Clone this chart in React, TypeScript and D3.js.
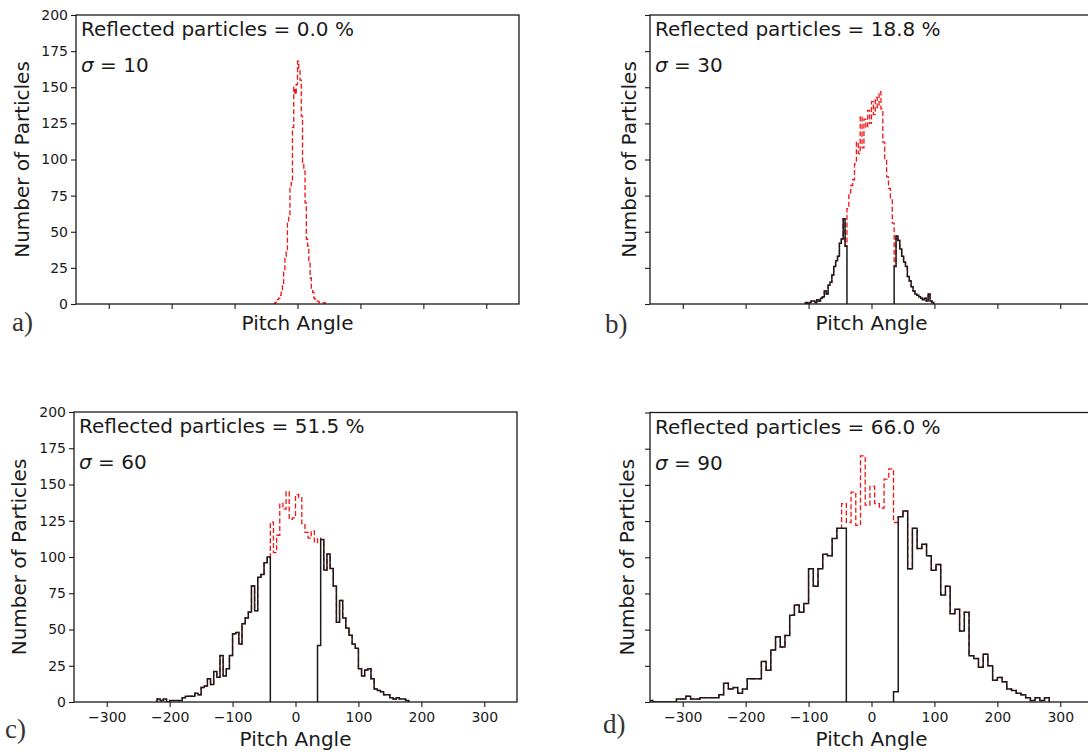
import React, { useEffect, useRef } from 'react';
import * as d3 from 'd3';

// Axis ticks shared by every panel
const pitchTicks = [-300, -200, -100, 0, 100, 200, 300];
const countTicks = [0, 25, 50, 75, 100, 125, 150, 175, 200];
const pitchDomain = [-352, 352];
const countDomain = [0, 200];

// a) sigma = 10, nothing reflected
const aBin = 2;
const aCoreStart = -38;
const aCore = [0, 1, 2, 3, 4, 6, 9, 13, 22, 33, 37, 56, 60, 80, 84, 122, 150, 145, 152, 168, 162, 155, 130, 98, 92, 70, 45, 40, 30, 18, 10, 8, 4, 3, 2, 2, 1, 1, 1, 1, 1, 0];

// b) sigma = 30
const bBin = 3;
const bLeftStart = -105;
const bLeft = [1, 0, 1, 2, 2, 1, 3, 2, 4, 5, 9, 7, 13, 15, 20, 26, 30, 33, 42, 45, 59, 40];
const bCoreStart = -39;
const bCore = [66, 77, 82, 86, 97, 112, 104, 130, 108, 128, 122, 134, 125, 140, 131, 143, 136, 147, 135, 112, 100, 88, 80, 72, 56];
const bRightStart = 36;
const bRight = [26, 47, 44, 38, 33, 29, 26, 19, 16, 12, 9, 7, 6, 5, 4, 3, 4, 2, 7, 2, 1];

// c) sigma = 60
const cBin = 5;
const cLeftStart = -220;
const cLeft = [2, 1, 2, 0, 1, 1, 1, 1, 3, 4, 4, 4, 6, 5, 10, 11, 16, 12, 21, 17, 32, 18, 23, 32, 47, 48, 40, 54, 58, 62, 80, 63, 86, 88, 96, 100];
const cCoreStart = -40;
const cCore = [124, 103, 115, 137, 133, 145, 126, 127, 143, 141, 123, 117, 113, 118, 110, 113];
const cRightStart = 35;
const cRight = [39, 112, 91, 102, 92, 80, 55, 70, 58, 51, 46, 40, 37, 23, 18, 22, 23, 16, 9, 8, 7, 5, 5, 3, 2, 3, 2, 2, 1];

// d) sigma = 90
const dBin = 7.5;
const dLeftStart = -355;
const dLeft = [1, 0, 0, 0, 0, 0, 2, 2, 4, 2, 2, 3, 3, 3, 3, 5, 13, 9, 10, 6, 9, 16, 16, 16, 28, 22, 36, 45, 38, 46, 60, 67, 62, 68, 92, 80, 92, 102, 101, 113, 120, 120];
const dCoreStart = -47.5;
const dCore = [137, 124, 145, 122, 170, 136, 149, 137, 134, 154, 161, 124];
const dRightStart = 35;
const dRight = [7, 128, 132, 92, 120, 106, 109, 101, 91, 95, 74, 80, 61, 64, 49, 62, 32, 30, 24, 33, 25, 15, 17, 14, 9, 8, 6, 5, 3, 1, 3, 1, 3];

const panelNames = ['a)', 'b)', 'c)', 'd)'];
const reflectedShares = ['0.0', '18.8', '51.5', '66.0'];
const sigmas = ['10', '30', '60', '90'];

const histos = [
  { bin: aBin, leftStart: 0, left: [], coreStart: aCoreStart, core: aCore, rightStart: 0, right: [] },
  { bin: bBin, leftStart: bLeftStart, left: bLeft, coreStart: bCoreStart, core: bCore, rightStart: bRightStart, right: bRight },
  { bin: cBin, leftStart: cLeftStart, left: cLeft, coreStart: cCoreStart, core: cCore, rightStart: cRightStart, right: cRight },
  { bin: dBin, leftStart: dLeftStart, left: dLeft, coreStart: dCoreStart, core: dCore, rightStart: dRightStart, right: dRight },
];

// Where each subplot sits on the page
const frames = [
  { left: 76, right: 519, top: 15, bottom: 304, yLabelX: 29, nameX: 12, nameY: 331 },
  { left: 650, right: 1093, top: 15, bottom: 304, yLabelX: 636, nameX: 605, nameY: 333 },
  { left: 74, right: 517, top: 412, bottom: 702, yLabelX: 26, nameX: 5, nameY: 738 },
  { left: 650, right: 1093, top: 412.5, bottom: 702, yLabelX: 634, nameX: 603, nameY: 733 },
];

const sans = "'DejaVu Sans', sans-serif";
const ink = '#1a1a1a';

type Bin = { x0: number; x1: number; count: number };

const toBins = (start: number, bin: number, counts: number[]): Bin[] =>
  counts.map((count, i) => ({ x0: start + i * bin, x1: start + (i + 1) * bin, count }));

const App = () => {
  const svgRef = useRef<SVGSVGElement>(null);

  useEffect(() => {
    const svg = d3.select(svgRef.current);
    svg.selectAll('*').remove();

    frames.forEach((f, k) => {
      const h = histos[k];
      const x = d3.scaleLinear().domain(pitchDomain).range([f.left, f.right]);
      const y = d3.scaleLinear().domain(countDomain).range([f.bottom, f.top]);

      // matplotlib style step outline
      const step = (bins: Bin[]) => {
        const pts: [number, number][] = [[bins[0].x0, 0], ...bins.map(b => [b.x0, b.count] as [number, number]), [bins[bins.length - 1].x1, 0]];
        return d3.line<[number, number]>()
          .x(p => x(p[0]))
          .y(p => y(p[1]))
          .curve(d3.curveStepAfter)(pts);
      };

      const leftBins = toBins(h.leftStart, h.bin, h.left);
      const coreBins = toBins(h.coreStart, h.bin, h.core);
      const rightBins = toBins(h.rightStart, h.bin, h.right);
      const coreEnd = coreBins[coreBins.length - 1].x1;
      // all particles: wings plus the transmitted core
      const allBins = [
        ...leftBins.filter(b => b.x1 <= h.coreStart + 1e-6),
        ...coreBins,
        ...rightBins.filter(b => b.x0 >= coreEnd - 1e-6),
      ];

      const g = svg.append('g');
      const clipId = `clip-${k}`;
      g.append('clipPath').attr('id', clipId)
        .append('rect')
        .attr('x', f.left).attr('y', f.top)
        .attr('width', f.right - f.left).attr('height', f.bottom - f.top);

      const plot = g.append('g').attr('clip-path', `url(#${clipId})`);
      plot.append('path')
        .attr('d', step(allBins))
        .attr('fill', 'none')
        .attr('stroke', '#f01414')
        .attr('stroke-width', 1.3)
        .attr('stroke-dasharray', '5,2.5');
      [leftBins, rightBins].filter(b => b.length).forEach(bins => {
        plot.append('path')
          .attr('d', step(bins))
          .attr('fill', 'none')
          .attr('stroke', ink)
          .attr('stroke-width', 1.5);
      });

      // Axes
      const showX = k >= 2;
      const showY = k % 2 === 0;
      const xAxis = g.append('g')
        .attr('transform', `translate(0,${f.bottom})`)
        .call(d3.axisBottom(x).tickValues(pitchTicks).tickSize(5).tickSizeOuter(0).tickPadding(5)
          .tickFormat(d => (showX ? d3.format('d')(d as number).replace('-', '\u2212') : '')));
      const yAxis = g.append('g')
        .attr('transform', `translate(${f.left},0)`)
        .call(d3.axisLeft(y).tickValues(countTicks).tickSize(5).tickSizeOuter(0).tickPadding(3)
          .tickFormat(d => (showY ? String(d) : '')));
      [xAxis, yAxis].forEach(a => {
        a.select('.domain').remove();
        a.selectAll('line').attr('stroke', ink).attr('stroke-width', 1.1);
        a.selectAll('text').attr('fill', ink).attr('font-family', sans).attr('font-size', 14);
      });

      g.append('rect')
        .attr('x', f.left).attr('y', f.top)
        .attr('width', f.right - f.left).attr('height', f.bottom - f.top)
        .attr('fill', 'none')
        .attr('stroke', ink)
        .attr('stroke-width', 1.3);

      // Labels
      g.append('text')
        .attr('x', (f.left + f.right) / 2)
        .attr('y', showX ? f.bottom + 44 : f.bottom + 26)
        .attr('text-anchor', 'middle')
        .attr('font-family', sans).attr('font-size', 20).attr('fill', ink)
        .text('Pitch Angle');
      g.append('text')
        .attr('transform', `translate(${f.yLabelX},${(f.top + f.bottom) / 2}) rotate(-90)`)
        .attr('text-anchor', 'middle')
        .attr('font-family', sans).attr('font-size', 20).attr('fill', ink)
        .text('Number of Particles');

      g.append('text')
        .attr('x', f.left + 5).attr('y', f.top + 21)
        .attr('font-family', sans).attr('font-size', 20).attr('fill', ink)
        .text(`Reflected particles = ${reflectedShares[k]} %`);
      const sig = g.append('text')
        .attr('x', f.left + 5).attr('y', f.top + 57)
        .attr('font-family', sans).attr('font-size', 20).attr('fill', ink);
      sig.append('tspan').attr('font-style', 'italic').text('\u03c3');
      sig.append('tspan').text(` = ${sigmas[k]}`);

      g.append('text')
        .attr('x', f.nameX).attr('y', f.nameY)
        .attr('font-family', "'Liberation Serif', serif").attr('font-size', 27).attr('fill', '#333')
        .text(panelNames[k]);
    });
  }, []);

  return (
    <svg
      ref={svgRef}
      width={1088}
      height={754}
      style={{ position: 'absolute', left: 0, top: 0, background: '#fff' }}
    />
  );
};

export default App;
